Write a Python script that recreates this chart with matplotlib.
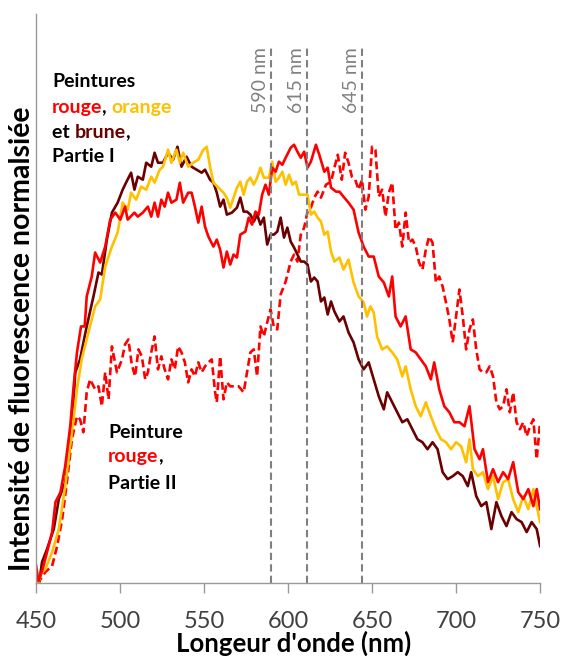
import matplotlib.pyplot as plt

# wavelengths (nm) and normalised intensity (arbitrary units)
wl_red = [450, 451.5, 454, 456.6, 459.6, 461.6, 464.6, 467.4, 470.4, 472.4, 474.4, 476.8, 479, 480.2, 483.2,
          485.2, 488.2, 491.2, 494.2, 497.2, 500.2, 503, 504.6, 508.6, 510.6, 513.6, 516.6, 518.6, 520.6,
          522.6, 524.6, 526.6, 528.6, 530.6, 533.6, 535.6, 537.6, 540.6, 542.6, 544.6, 546.6, 548.6, 550.6,
          552.6, 555.6, 557.6, 559.6, 561.6, 563.6, 565.6, 567.6, 569.6, 571.6, 574.6, 576.6, 578.6, 580.6,
          582.6, 584.6, 586.6, 588.6, 590.6, 592.6, 594.6, 596.6, 598.6, 601.6, 603.6, 605.6, 607.6, 609.6,
          611.6, 613.6, 616.6, 618.6, 621.6, 623.6, 625.6, 628.6, 630.6, 633, 636, 639, 642, 645, 648, 651,
          654, 657, 660, 662, 664, 667, 670, 673, 676, 679, 682, 685, 687, 690, 693, 696, 699, 702, 705, 708,
          711, 714, 716, 719, 722, 725, 728, 731, 734, 737, 740, 743, 746, 748, 750]
int_red = [18, 2, 14, 31, 51, 81, 91, 117, 157, 197, 231, 257, 257, 287, 307,
           331, 321, 337, 364, 371, 364, 377, 364, 371, 367, 371, 377, 367, 381,
           367, 384, 377, 391, 381, 384, 401, 381, 391, 391, 377, 361, 377, 357,
           347, 337, 344, 334, 316, 332, 319, 329, 326, 349, 352, 366, 359, 372,
           369, 389, 399, 389, 416, 412, 422, 419, 426, 436, 439, 432, 426, 432,
           416, 422, 439, 429, 412, 416, 396, 392, 392, 387, 381, 374, 351, 337, 327, 327,
           307, 301, 287, 307, 267, 257, 267, 234, 231, 224, 217, 204, 221, 194, 177, 171, 161, 161, 157, 177,
           134, 124, 134, 101, 114, 101, 111, 104, 121, 91, 84, 94, 77, 94, 74]

wl_orange = [450, 451.6, 453, 455.6, 459.6, 463.6, 467.4, 471.4, 474.4, 477.2, 481.2, 485.2, 488.2, 491.2,
             495.2, 498.6, 501.6, 504.6, 506.6, 509.6, 512.6, 515.6, 518.6, 520.6, 523.6, 525.6, 528.6,
             530.6, 533.6, 535.6, 537.6, 540.6, 543.6, 546.6, 549.6, 551.6, 553.6, 555.6, 558.6, 561.6,
             563.6, 565.6, 567.6, 569.6, 571.6, 573.6, 575.6, 577.6, 579.6, 581.6, 583.6, 585.6, 588.6,
             590.6, 592.6, 594.6, 596.6, 598.6, 600.6, 602.6, 604.6, 606.6, 608.6, 611.6, 613.6, 615.6,
             617.6, 619.6, 621.6, 623.6, 625.6, 627.6, 630.6, 633, 636, 639, 642, 645, 647, 649, 651, 653,
             656, 659, 662, 665, 668, 670, 673, 676, 679, 682, 685, 688, 691, 694, 697, 700, 703, 706, 708,
             710, 713, 716, 719, 722, 725, 728, 731, 734, 737, 740, 743, 746, 748, 750]
int_orange = [1, 1, 9, 14, 31, 54, 97, 151, 194, 224, 251, 277, 284, 317,
              337, 351, 381, 374, 391, 384, 397, 394, 407, 401, 414, 417, 434,
              421, 434, 421, 431, 417, 421, 424, 434, 437, 417, 401, 396, 391,
              386, 376, 386, 396, 402, 389, 402, 406, 399, 406, 416, 406, 406,
              422, 402, 406, 412, 399, 409, 399, 402, 389, 389, 389, 369, 372,
              366, 362, 349, 352, 332, 322, 326, 314, 324, 301, 287, 281, 267, 277, 271, 247,
              234, 237, 231, 224, 207, 217, 194, 177, 167, 181, 167, 154, 144, 141, 134, 141, 137, 121, 144,
              114, 107, 111, 94, 107, 84, 101, 104, 84, 71, 87, 74, 94, 77, 61]

wl_brown = [450, 452, 453.6, 456.6, 460.6, 463.6, 467.4, 470.4, 472.4, 473.4, 476.2, 480.2, 484.2, 487.2,
            489.2, 492.2, 495.2, 498.6, 501.6, 503.6, 506.6, 508.6, 510.6, 513.6, 515.6, 518.6, 520.6,
            522.6, 525.6, 528.6, 531.6, 534.2, 536.6, 539.6, 542.6, 545.6, 548.6, 550.6, 553.6, 555.6,
            557.6, 559.6, 561.6, 563.6, 566.6, 569.6, 571.6, 573.6, 575.6, 577.6, 579.6, 581.6, 583.6,
            585.6, 587.6, 589.6, 591.6, 593.6, 595.6, 597.6, 599.6, 601.6, 603.6, 605.6, 607.6, 609.6,
            611.6, 613.6, 615.6, 617.6, 619.6, 621.6, 623.6, 625.6, 627.6, 630.6, 633, 636, 639, 642, 645,
            648, 651, 654, 657, 659, 662, 665, 668, 671, 674, 677, 680, 683, 686, 689, 692, 695, 698, 701,
            704, 707, 709, 712, 715, 718, 721, 724, 727, 730, 733, 736, 739, 742, 745, 748, 750]
int_brown = [8, 1, 21, 34, 54, 84, 101, 137, 184, 211, 224, 257, 287, 311,
             309, 344, 371, 381, 394, 401, 411, 394, 407, 404, 421, 417, 431,
             421, 421, 431, 424, 437, 417, 427, 417, 414, 411, 414, 404, 401,
             391, 377, 384, 369, 371, 376, 386, 372, 372, 369, 362, 369, 359,
             366, 339, 349, 349, 352, 366, 346, 356, 342, 336, 329, 322, 322,
             319, 302, 306, 302, 282, 286, 269, 282, 272, 262, 267, 251, 241, 224, 214,
             221, 204, 187, 174, 191, 181, 171, 161, 164, 154, 144, 141, 134, 141, 134, 111, 104, 107, 111,
             107, 97, 111, 87, 77, 81, 54, 81, 67, 57, 71, 64, 61, 51, 61, 54, 37]

wl_red2 = [450, 451.6, 455.6, 459.6, 462.6, 465.6, 468.4, 471.4, 474.4, 476.2, 478.2, 480.2, 482.2, 485.2,
           487.2, 489.2, 491.2, 493.2, 495.2, 498.2, 501.2, 503, 505, 507, 509, 511, 513, 515, 516.6, 518.6,
           520.6, 522.6, 524.6, 526.6, 528.6, 530.6, 532.6, 534.6, 536.6, 538.6, 540.6, 542.6, 544.6,
           546.6, 548.6, 550.6, 552.6, 554.6, 556.6, 557.6, 559.6, 561.6, 563.6, 565.6, 568.6, 570.6,
           573.6, 575.6, 577.6, 579.6, 581.6, 583.6, 585.6, 587.6, 589.6, 591.6, 593.6, 595.6, 598.6,
           601.6, 603.6, 605.6, 607.6, 609.6, 611.6, 613.6, 615.6, 617.6, 619.6, 622.6, 625.6, 627.6,
           629.6, 632, 634, 636, 638, 640, 642, 644, 646, 648, 650, 652, 654, 656, 658, 660, 662, 664, 666,
           668, 670, 672, 674, 676, 678, 680, 682, 684, 686, 688, 690, 692, 694, 696, 698, 700, 702, 704,
           706, 708, 710, 712, 714, 716, 718, 720, 722, 724, 726, 728, 730, 732, 734, 736, 738, 740, 742,
           744, 746, 748, 750]
int_red2 = [1, 1, 11, 17, 37, 64, 101, 144, 167, 164, 151, 191, 204, 194,
            197, 177, 211, 184, 237, 211, 224, 239, 244, 219, 207, 234, 227, 204, 211, 231,
            247, 214, 227, 214, 204, 224, 214, 237, 231, 221, 201, 214, 207,
            221, 211, 217, 221, 224, 191, 181, 227, 184, 201, 197, 197, 197,
            191, 211, 231, 234, 207, 257, 247, 261, 274, 256, 254, 289, 302,
            322, 329, 322, 349, 356, 372, 376, 386, 392, 386, 399, 402, 416,
            429, 404, 431, 421, 407, 404, 394, 404, 374, 387, 437, 434, 387, 394, 367, 391, 401, 354, 361,
            337, 371, 341, 344, 337, 321, 314, 334, 347, 341, 301, 307, 297, 281, 264, 241, 267, 294, 267,
            234, 254, 264, 234, 214, 211, 211, 217, 207, 181, 174, 177, 194, 171, 191, 161, 154, 161, 147,
            157, 164, 124, 161]

marker_wl = [590, 611.5, 644]
marker_labels = ['590 nm', '615 nm', '645 nm']
xticks = [450, 500, 550, 600, 650, 700, 750]

RED = '#FF0000'
ORANGE = '#FFC000'
BROWN = '#6B0000'
GREY = '#808080'

plt.rcParams['font.family'] = ['Lato', 'DejaVu Sans']

fig = plt.figure(figsize=(5.62, 6.56), dpi=100)
ax = fig.add_axes([0.064, 0.1113, 0.897, 0.8674])

ax.plot(wl_red2, int_red2, color=RED, lw=1.9, linestyle=(0, (3, 1.5)))
ax.plot(wl_brown, int_brown, color=BROWN, lw=1.9)
ax.plot(wl_orange, int_orange, color=ORANGE, lw=1.9)
ax.plot(wl_red, int_red, color=RED, lw=1.9)

ax.vlines(marker_wl, 0, 537, colors=GREY, lw=1.5, linestyles=(0, (3.5, 2)))
for x, lab in zip(marker_wl, marker_labels):
    ax.text(x - 1.2, 537, lab, rotation=90, ha='right', va='top', color=GREY, fontsize=14)

ax.set_xlim(450, 750)
ax.set_ylim(0, 570)
ax.set_xticks(xticks)
ax.set_yticks([])
ax.tick_params(axis='x', length=7, width=1, color='#999999', labelsize=17, labelcolor='#404040', pad=13)
for s in ['top', 'right']:
    ax.spines[s].set_visible(False)
for s in ['left', 'bottom']:
    ax.spines[s].set_color('#999999')
    ax.spines[s].set_linewidth(1)

ax.set_xlabel("Longeur d'onde (nm)", fontsize=18.5, fontweight='bold', va='baseline')
ax.xaxis.set_label_coords(0.512, -0.121)
ax.set_ylabel('Intensité de fluorescence normalsiée', fontsize=20.5, fontweight='bold')
ax.yaxis.set_label_coords(-0.002, 0.43)


def colored_line(x, y, parts):
    # pieces of one text line, each chained to the end of the previous one
    t = ax.text(x, y, parts[0][0], color=parts[0][1], fontsize=14, fontweight='bold', va='baseline')
    for txt, col in parts[1:]:
        t = ax.annotate(txt, xycoords=t, xy=(1, 0), va='bottom', ha='left',
                        color=col, fontsize=14, fontweight='bold')


colored_line(459.5, 497, [('Peintures', 'black')])
colored_line(459.5, 471, [('rouge', RED), (', ', 'black'), ('orange', ORANGE)])
colored_line(459.5, 446, [('et ', 'black'), ('brune', BROWN), (',', 'black')])
colored_line(459.5, 422, [('Partie I', 'black')])

colored_line(493, 145, [('Peinture', 'black')])
colored_line(493, 121, [('rouge', RED), (',', 'black')])
colored_line(493, 94, [('Partie II', 'black')])

fig.savefig('out.png', dpi=100)
